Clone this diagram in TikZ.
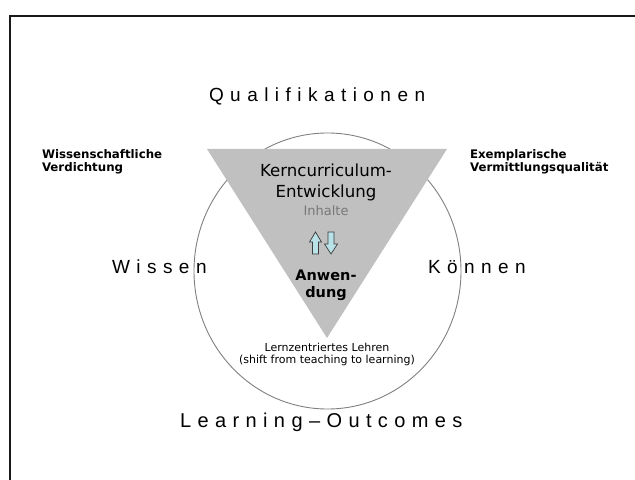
\documentclass[tikz,border=0pt]{standalone}
\usepackage{fontspec}
\setmainfont{Liberation Sans}
\newfontfamily\verd{DejaVu Sans}
\newfontfamily\spaced[LetterSpace=34]{Liberation Sans}
\newfontfamily\spacedlo[LetterSpace=32]{Liberation Sans}
\definecolor{trifill}{RGB}{192,192,192}
\definecolor{ringgray}{RGB}{128,128,128}
\definecolor{arrowfill}{RGB}{185,226,232}
\definecolor{arrowline}{RGB}{60,60,60}
\definecolor{softtext}{RGB}{120,120,120}
\begin{document}
\begin{tikzpicture}[x=1bp,y=-1bp,
  every node/.style={inner sep=0pt,outer sep=0pt},
  bigword/.style={anchor=base west,font=\spaced\fontsize{19bp}{23bp}\selectfont},
  corner/.style={anchor=base west,font=\verd\bfseries\fontsize{11.8bp}{13bp}\selectfont},
  inner/.style={anchor=base,font=\verd\fontsize{16.6bp}{20bp}\selectfont},
  small/.style={anchor=base,font=\verd\fontsize{11bp}{13bp}\selectfont},
  blockarrow/.style={fill=arrowfill,draw=arrowline,line width=0.7bp,line join=miter}]
\useasboundingbox (0,0) rectangle (635,480);
\fill[white] (0,0) rectangle (635,480);

% frame
\draw[line width=2bp,black!90] (635,16) -- (10,16) -- (10,480);

% circle
\coordinate (c) at (327.5,271);
\draw[ringgray,line width=0.9bp] (c) ellipse [x radius=133.5bp, y radius=138bp];

% triangle
\coordinate (tl) at (207,149);
\coordinate (tr) at (447,149);
\coordinate (tb) at (327,338);
\fill[trifill] (tl) -- (tr) -- (tb) -- cycle;

% outer labels
\node[bigword] (qual) at (209,102) {Qualifikationen};
\node[bigword] (wissen) at (112,273) {Wissen};
\node[bigword] (koennen) at (428,273) {Können};
\node[bigword,font=\spacedlo\fontsize{20bp}{24bp}\selectfont] (lo) at (180,427) {Learning–Outcomes};

\node[corner] (wv1) at (42,159) {Wissenschaftliche};
\node[corner] (wv2) at (42,172) {Verdichtung};
\node[corner] (ev1) at (470,159) {Exemplarische};
\node[corner] (ev2) at (470,172) {Vermittlungsqualität};

% inside the triangle
\node[inner] (k1) at (326,177) {Kerncurriculum-};
\node[inner] (k2) at (326,198) {Entwicklung};
\node[anchor=base,font=\verd\fontsize{13bp}{16bp}\selectfont,text=softtext] (inh) at (326,216) {Inhalte};
\node[anchor=base,font=\verd\bfseries\fontsize{14.5bp}{17bp}\selectfont] (aw1) at (326,280) {Anwen-};
\node[anchor=base,font=\verd\bfseries\fontsize{14.5bp}{17bp}\selectfont] (aw2) at (326,297) {dung};

% up and down block arrows
\draw[blockarrow] (315.5,232) -- (321.5,242) -- (318.5,242) -- (318.5,254) -- (312.5,254) -- (312.5,242) -- (309.5,242) -- cycle;
\draw[blockarrow] (331,254) -- (337.5,244) -- (334,244) -- (334,232) -- (328,232) -- (328,244) -- (324.5,244) -- cycle;

% below the apex
\node[small] (lz1) at (327,351) {Lernzentriertes Lehren};
\node[small] (lz2) at (327,363) {(shift from teaching to learning)};
\end{tikzpicture}
\end{document}
